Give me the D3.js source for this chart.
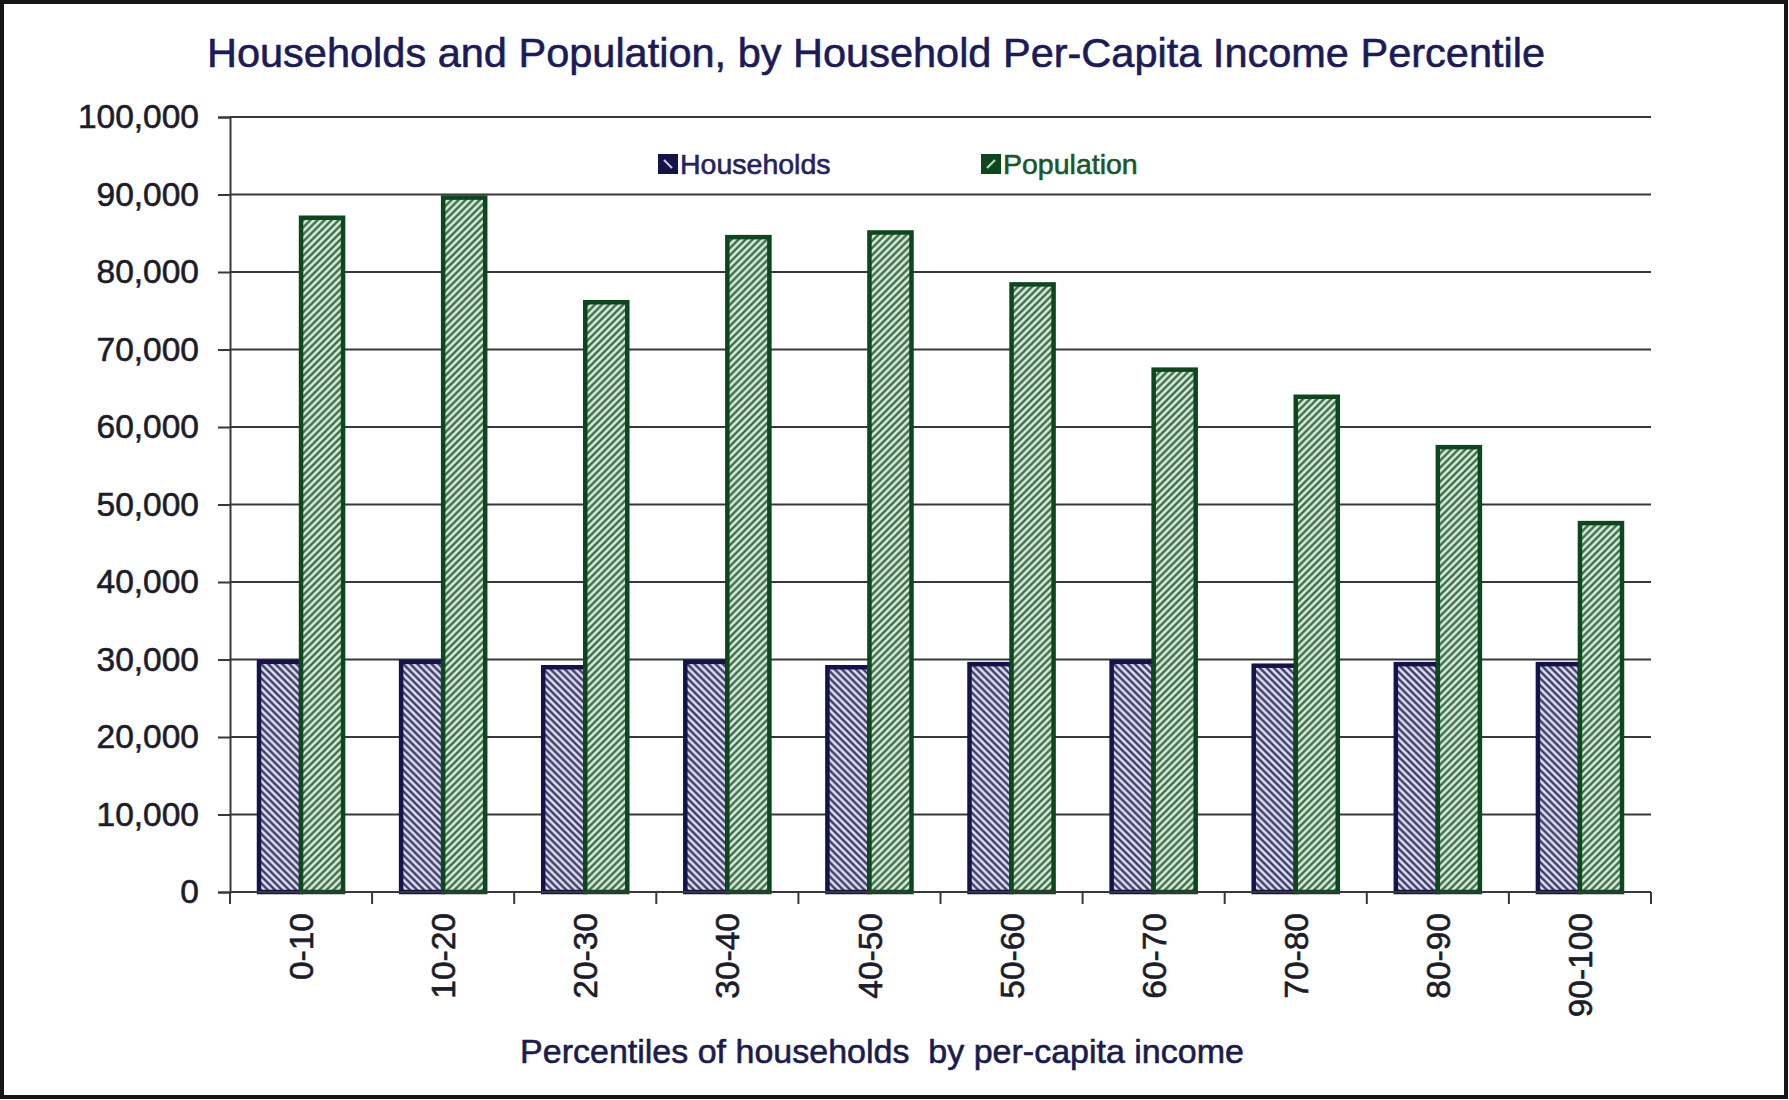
<!DOCTYPE html>
<html>
<head>
<meta charset="utf-8">
<script src="https://cdn.jsdelivr.net/npm/d3@7"></script>
<style>
  html, body { margin: 0; padding: 0; background: #fff; }
  svg { display: block; }
  text { font-family: "Liberation Sans", Arial, sans-serif; }
</style>
</head>
<body>
<script>
const categories = ["0-10", "10-20", "20-30", "30-40", "40-50", "50-60", "60-70", "70-80", "80-90", "90-100"];
const households = [29700, 29700, 29000, 29700, 29000, 29400, 29700, 29200, 29400, 29400];
const population = [87000, 89600, 76100, 84500, 85100, 78400, 67400, 63900, 57400, 47600];
const seriesNames = ["Households", "Population"];
const yTicks = [0, 10000, 20000, 30000, 40000, 50000, 60000, 70000, 80000, 90000, 100000];

const W = 1789, H = 1100;
const plot = { left: 230, right: 1651, top: 117, bottom: 892 };

const svg = d3.select("body").append("svg").attr("width", W).attr("height", H);
svg.append("rect").attr("width", W).attr("height", H).attr("fill", "#fff");

// patterns
const defs = svg.append("defs");
function hatch(id, bg, fg, angle, size, sw) {
  const p = defs.append("pattern").attr("id", id).attr("patternUnits", "userSpaceOnUse")
    .attr("width", size).attr("height", size).attr("patternTransform", `rotate(${angle})`);
  p.append("rect").attr("width", size).attr("height", size).attr("fill", bg);
  p.append("line").attr("x1", size / 2).attr("y1", 0).attr("x2", size / 2).attr("y2", size)
    .attr("stroke", fg).attr("stroke-width", sw);
}
hatch("hh", "#e0dfec", "#2a2a5e", -45, 5, 2.2);
hatch("pp", "#dcebdf", "#2a6036", 45, 5, 2.2);

const styles = {
  Households: { fill: "url(#hh)", stroke: "#14144a", text: "#23235e", glyph: -1, light: "#c8c8e0" },
  Population: { fill: "url(#pp)", stroke: "#0c471d", text: "#17582a", glyph: 1, light: "#b8dcc0" }
};

// outer frame
svg.append("rect").attr("x", 2).attr("y", 2).attr("width", W - 5).attr("height", H - 5)
  .attr("fill", "none").attr("stroke", "#151515").attr("stroke-width", 4);

const x = d3.scaleBand().domain(categories).range([plot.left, plot.right]).paddingInner(0).paddingOuter(0);
const xs = d3.scaleBand().domain(seriesNames).range([0, x.bandwidth()]).paddingInner(0).paddingOuter(0.69);
const y = d3.scaleLinear().domain([0, 100000]).range([plot.bottom, plot.top]);

// gridlines
svg.append("g").selectAll("line").data(yTicks).join("line")
  .attr("x1", plot.left).attr("x2", plot.right)
  .attr("y1", d => y(d)).attr("y2", d => y(d))
  .attr("stroke", "#383838").attr("stroke-width", 2);

const textStroke = (sel, color) => sel.attr("stroke", color).attr("stroke-width", 0.6);

// y axis
const yAxis = svg.append("g").attr("transform", `translate(${plot.left},0)`)
  .call(d3.axisLeft(y).tickValues(yTicks).tickSize(12).tickPadding(19).tickFormat(d3.format(",")));
yAxis.select(".domain").attr("stroke", "#383838").attr("stroke-width", 2);
yAxis.selectAll(".tick line").attr("stroke", "#383838").attr("stroke-width", 2);
yAxis.selectAll(".tick text").attr("font-size", 33.5).attr("fill", "#1c1c2a")
  .attr("font-family", '"Liberation Sans", Arial, sans-serif').call(textStroke, "#1c1c2a");

// bars
const data = categories.map((c, i) => ({ c, vals: [
  { s: "Households", v: households[i] },
  { s: "Population", v: population[i] }
]}));
const groups = svg.append("g").selectAll("g").data(data).join("g")
  .attr("transform", d => `translate(${x(d.c)},0)`);
groups.selectAll("rect").data(d => d.vals).join("rect")
  .attr("x", d => xs(d.s)).attr("width", xs.bandwidth())
  .attr("y", d => y(d.v)).attr("height", d => y(0) - y(d.v))
  .attr("fill", d => styles[d.s].fill)
  .attr("stroke", d => styles[d.s].stroke).attr("stroke-width", 4.5);

// x axis
const xAxisG = svg.append("g").attr("transform", `translate(0,${plot.bottom})`);
xAxisG.append("line").attr("x1", plot.left).attr("x2", plot.right)
  .attr("stroke", "#383838").attr("stroke-width", 2);
const boundaries = categories.map(c => x(c)).concat([x(categories[categories.length - 1]) + x.bandwidth()]);
xAxisG.selectAll("line.tk").data(boundaries).join("line").attr("class", "tk")
  .attr("x1", d => d).attr("x2", d => d).attr("y1", 0).attr("y2", 12)
  .attr("stroke", "#383838").attr("stroke-width", 2);
xAxisG.selectAll("text").data(categories).join("text")
  .attr("transform", d => `translate(${x(d) + x.bandwidth() / 2},21) rotate(-90)`)
  .attr("text-anchor", "end").attr("dy", "0.36em")
  .attr("font-size", 33.5).attr("fill", "#1c1c2a").call(textStroke, "#1c1c2a").text(d => d);

// title
svg.append("text").attr("x", 876).attr("y", 67).attr("text-anchor", "middle")
  .attr("font-size", 41.5).attr("fill", "#1b1b58").call(textStroke, "#1b1b58")
  .text("Households and Population, by Household Per-Capita Income Percentile");

// x axis title
svg.append("text").attr("x", 882).attr("y", 1063).attr("text-anchor", "middle")
  .attr("font-size", 34).attr("fill", "#1b1b4e").call(textStroke, "#1b1b4e")
  .attr("xml:space", "preserve").style("white-space", "pre")
  .text("Percentiles of households  by per-capita income");

// legend
const legendPos = [{ s: "Households", x: 659 }, { s: "Population", x: 982 }];
const lg = svg.append("g").selectAll("g").data(legendPos).join("g")
  .attr("transform", d => `translate(${d.x},164)`);
lg.append("rect").attr("x", 0).attr("y", -9).attr("width", 18).attr("height", 18)
  .attr("fill", d => styles[d.s].stroke).attr("stroke", d => styles[d.s].stroke).attr("stroke-width", 2);
lg.append("line")
  .attr("x1", d => (styles[d.s].glyph < 0 ? 5 : 13))
  .attr("x2", d => (styles[d.s].glyph < 0 ? 13 : 5))
  .attr("y1", -4).attr("y2", 4)
  .attr("stroke", d => styles[d.s].light).attr("stroke-width", 2.2);
lg.append("text").attr("x", 21).attr("y", 0).attr("dy", "0.36em")
  .attr("font-size", 28.5).attr("fill", d => styles[d.s].text)
  .attr("stroke", d => styles[d.s].text).attr("stroke-width", 0.6).text(d => d.s);
</script>
</body>
</html>
